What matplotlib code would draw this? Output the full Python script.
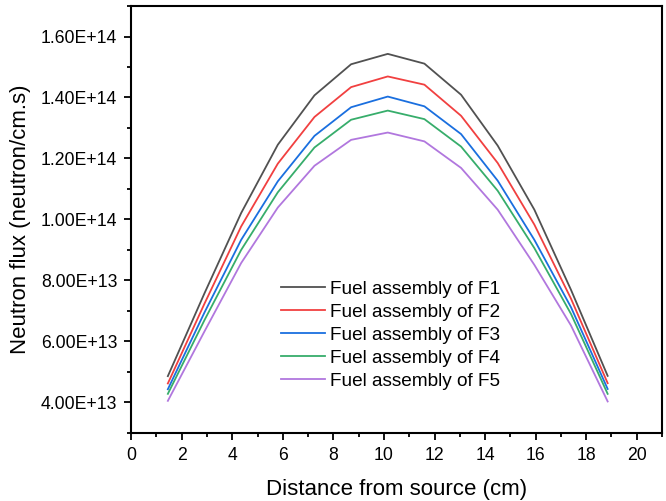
import numpy as np
import matplotlib.pyplot as plt
from matplotlib.ticker import MultipleLocator, FuncFormatter

plt.rcParams['font.family'] = ['Liberation Sans', 'DejaVu Sans']

# distance from source (cm)
distance = [1.45, 2.9, 4.35, 5.8, 7.25, 8.7, 10.15, 11.6, 13.05, 14.5, 15.95, 17.4, 18.85]

# neutron flux (neutron/cm.s)
flux_f1 = [4.86e13, 7.58e13, 1.021e14, 1.245e14, 1.407e14, 1.509e14, 1.543e14,
           1.511e14, 1.409e14, 1.242e14, 1.032e14, 7.69e13, 4.87e13]
flux_f2 = [4.62e13, 7.24e13, 9.77e13, 1.183e14, 1.336e14, 1.434e14, 1.469e14,
           1.442e14, 1.340e14, 1.185e14, 9.83e13, 7.40e13, 4.63e13]
flux_f3 = [4.43e13, 6.95e13, 9.33e13, 1.125e14, 1.274e14, 1.368e14, 1.403e14,
           1.371e14, 1.280e14, 1.127e14, 9.33e13, 7.12e13, 4.44e13]
flux_f4 = [4.28e13, 6.70e13, 9.00e13, 1.089e14, 1.236e14, 1.327e14, 1.357e14,
           1.329e14, 1.239e14, 1.094e14, 9.06e13, 6.90e13, 4.28e13]
flux_f5 = [4.05e13, 6.33e13, 8.57e13, 1.039e14, 1.176e14, 1.261e14, 1.285e14,
           1.256e14, 1.169e14, 1.032e14, 8.51e13, 6.52e13, 4.03e13]

labels = ["Fuel assembly of F1", "Fuel assembly of F2", "Fuel assembly of F3",
          "Fuel assembly of F4", "Fuel assembly of F5"]
colors = ["#515151", "#F14040", "#1A6FDF", "#37AD6B", "#B177DE"]

fig = plt.figure(figsize=(6.66, 5.01), dpi=100)
ax = fig.add_axes([0.197, 0.136, 0.797, 0.852])

for y, lab, c in zip([flux_f1, flux_f2, flux_f3, flux_f4, flux_f5], labels, colors):
    ax.plot(distance, y, color=c, lw=1.3, label=lab)

ax.set_xlim(0, 21)
ax.set_ylim(3e13, 1.7e14)
ax.xaxis.set_major_locator(MultipleLocator(2))
ax.xaxis.set_minor_locator(MultipleLocator(1))
ax.yaxis.set_major_locator(MultipleLocator(2e13))
ax.yaxis.set_minor_locator(MultipleLocator(1e13))
ax.yaxis.set_major_formatter(FuncFormatter(lambda v, p: "{:.2E}".format(v)))
ax.yaxis.get_offset_text().set_visible(False)

ax.tick_params(which='major', direction='out', length=5, width=1.3, labelsize=12.7, pad=5)
ax.tick_params(which='minor', direction='out', length=3, width=1.3)
for s in ax.spines.values():
    s.set_linewidth(1.5)

ax.set_xlabel("Distance from source (cm)", fontsize=16, labelpad=11)
ax.set_ylabel("Neutron flux (neutron/cm.s)", fontsize=16, labelpad=7)

ax.legend(loc='center', bbox_to_anchor=(0.489, 0.229), frameon=False, fontsize=13.7,
          handlelength=2.3, handletextpad=0.3, labelspacing=0.3)

fig.savefig("out.png", dpi=100)
